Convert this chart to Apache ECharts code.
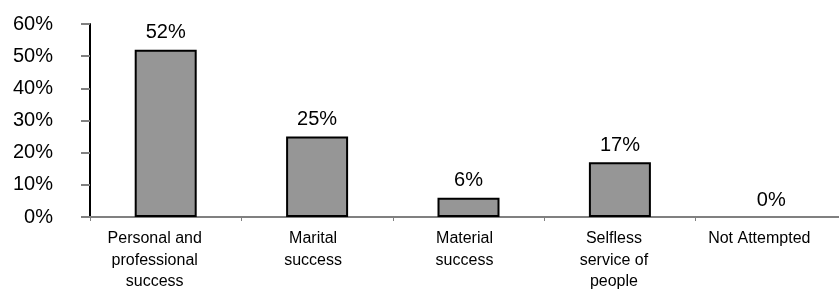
<!DOCTYPE html>
<html>
<head>
<meta charset="utf-8">
<script src="https://cdn.jsdelivr.net/npm/echarts@6/dist/echarts.min.js"></script>
<style>
  html, body { margin: 0; padding: 0; background: #fff; }
  #chart { width: 839px; height: 291px; }
</style>
</head>
<body>
<div id="chart"></div>
<script>
// données du graphique
const categories = [
    'Personal and\nprofessional\nsuccess',
    'Marital\nsuccess',
    'Material\nsuccess',
    'Selfless\nservice of\npeople',
    'Not Attempted'
];
const percents = [52, 25, 6, 17, 0];
const yTicks = [0, 60, 10]; // min, max, pas

const chart = echarts.init(document.getElementById('chart'));

// pas de bordure pour une barre de hauteur nulle
const barData = percents.map(v => v === 0 ? { value: v, itemStyle: { borderWidth: 0 } } : v);

// les étiquettes de l'original sont un peu décalées vers la gauche
const labelPadRight = [22, 8, 8, 12, 24];
const rich = {};
labelPadRight.forEach((p, i) => {
    rich['l' + i] = {
        color: '#000',
        fontFamily: 'Liberation Sans',
        fontSize: 16,
        lineHeight: 21.5,
        padding: [0, p, 0, 0]
    };
});

const options = {
    animation: false,
    grid: { left: 90, right: -8, top: 24, bottom: 74, outerBoundsMode: 'none' },
    xAxis: {
        type: 'category',
        data: categories,
        axisLine: { lineStyle: { color: '#808080', width: 2 } },
        axisTick: { show: true, length: 4, lineStyle: { color: '#808080' } },
        axisLabel: {
            color: '#000',
            fontFamily: 'Liberation Sans',
            fontSize: 16,
            lineHeight: 21.5,
            margin: 11,
            interval: 0,
            formatter: (value, index) => '{l' + index + '|' + value + '}',
            rich: rich
        }
    },
    yAxis: {
        type: 'value',
        min: yTicks[0],
        max: yTicks[1],
        interval: yTicks[2],
        splitLine: { show: false },
        axisLine: { show: true, lineStyle: { color: '#000', width: 2 } },
        axisTick: { show: true, length: 9, lineStyle: { color: '#808080', width: 2 } },
        axisLabel: {
            color: '#000',
            fontFamily: 'Liberation Sans',
            fontSize: 20,
            margin: 37,
            formatter: '{value}%'
        }
    },
    series: [
        {
            type: 'bar',
            data: barData,
            barWidth: 62,
            itemStyle: { color: '#969696', borderColor: '#000', borderWidth: 2 },
            label: {
                show: true,
                position: 'top',
                distance: 7,
                color: '#000',
                fontFamily: 'Liberation Sans',
                fontSize: 20,
                formatter: '{c}%'
            }
        }
    ]
};

chart.setOption(options);
</script>
</body>
</html>
